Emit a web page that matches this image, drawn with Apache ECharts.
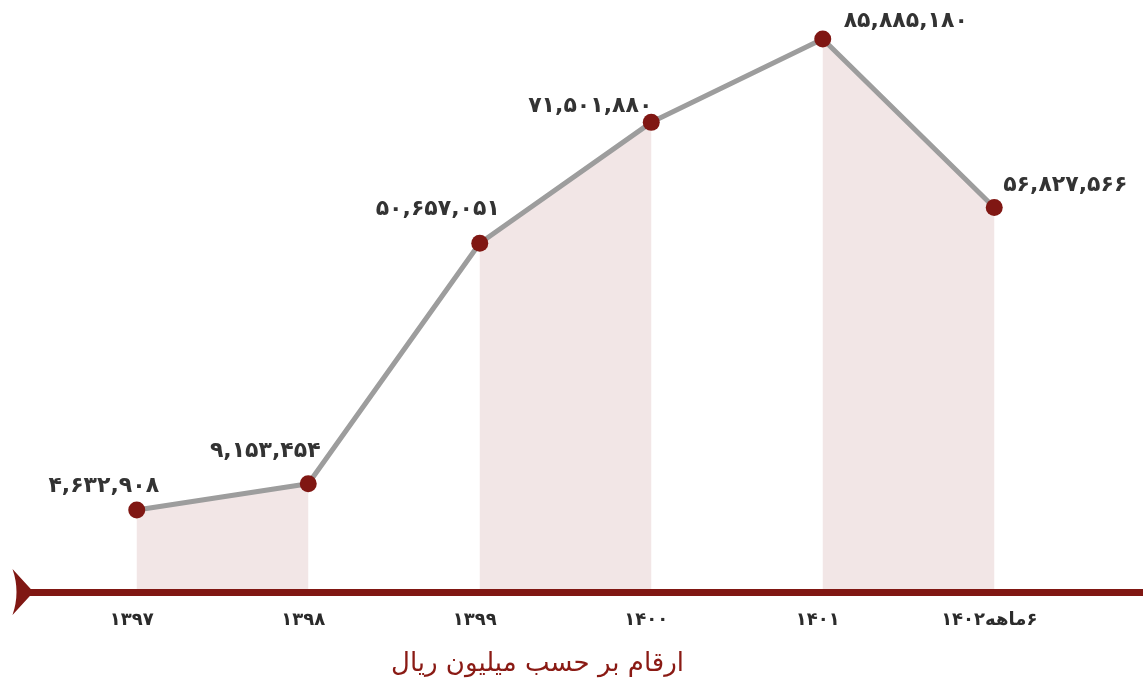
<!DOCTYPE html>
<html>
<head>
<meta charset="utf-8">
<script src="https://cdn.jsdelivr.net/npm/echarts@6/dist/echarts.min.js"></script>
<style>
  html, body { margin: 0; padding: 0; background: #fff; }
  #main { width: 1143px; height: 678px; }
</style>
</head>
<body>
<div id="main"></div>
<script>
// سال‌ها و مقادیر (میلیون ریال)
const years = ['۱۳۹۷', '۱۳۹۸', '۱۳۹۹', '۱۴۰۰', '۱۴۰۱', '\u2067۶ماهه۱۴۰۲\u2069'];
const values = [4632908, 9153454, 50657051, 71501880, 85885180, 56827566];
// برچسب‌ها جابجا می‌شوند
const labelOffsets = [[-33, 0], [-43, -9], [-42, -10], [-61, 7], [83, 6], [71, 1]];
// جفت نقاطی که زیرشان رنگ می‌خورد
const shadePairs = [[0, 1], [2, 3], [4, 5]];
const unitTitle = 'ارقام بر حسب میلیون ریال';

const red = '#801713';
const faDigits = '۰۱۲۳۴۵۶۷۸۹';
const toFa = (n) => String(n).replace(/\B(?=(\d{3})+(?!\d))/g, ',').replace(/\d/g, d => faDigits[d]);

const myChart = echarts.init(document.getElementById('main'));

const shadeSeries = shadePairs.map(pair => ({
  type: 'line',
  xAxisIndex: 0,
  yAxisIndex: 0,
  data: values.map((v, i) => (pair.includes(i) ? v : null)),
  symbol: 'none',
  lineStyle: { width: 0 },
  areaStyle: { color: '#f2e6e6', opacity: 1, origin: 'start' },
  silent: true,
  z: 1
}));

const option = {
  animation: false,
  title: {
    text: unitTitle,
    left: 386,
    top: 646,
    textStyle: { color: '#8a1a14', fontSize: 26, fontWeight: 'normal', fontFamily: 'DejaVu Sans' }
  },
  grid: [
    { left: 51, right: 63, top: 20, bottom: 86 },
    // فقط برای خط محور با فلش
    { left: 23, right: 0, top: 20, bottom: 86 }
  ],
  xAxis: [
    {
      type: 'category',
      gridIndex: 0,
      data: years,
      axisLine: { show: false },
      axisTick: { show: false },
      axisLabel: {
        margin: 19,
        padding: [0, 10, 0, 0],
        color: '#2b2b2b',
        fontSize: 18,
        fontWeight: 'bold',
        fontFamily: 'DejaVu Sans'
      }
    },
    {
      type: 'value',
      gridIndex: 1,
      min: 0,
      max: 1,
      axisLabel: { show: false },
      axisTick: { show: false },
      splitLine: { show: false },
      axisLine: {
        show: true,
        lineStyle: { color: red, width: 7 },
        symbol: ['path://M0,0 L23,21 L46,0 Q23,8 0,0 Z', 'none'],
        symbolSize: [46, 21]
      },
      z: 10
    }
  ],
  yAxis: [
    { type: 'value', gridIndex: 0, min: -9510000, max: 89160000, show: false },
    { type: 'value', gridIndex: 1, show: false }
  ],
  series: [
    ...shadeSeries,
    {
      type: 'line',
      xAxisIndex: 0,
      yAxisIndex: 0,
      data: values.map((v, i) => ({
        value: v,
        label: { offset: labelOffsets[i] }
      })),
      symbol: 'circle',
      symbolSize: 17,
      itemStyle: { color: red },
      lineStyle: { color: '#9d9d9d', width: 5 },
      label: {
        show: true,
        position: 'top',
        distance: 4,
        color: '#333',
        fontSize: 22,
        fontWeight: 'bold',
        fontFamily: 'DejaVu Sans',
        formatter: (p) => toFa(p.value)
      },
      z: 5
    }
  ]
};

myChart.setOption(option);
</script>
</body>
</html>
